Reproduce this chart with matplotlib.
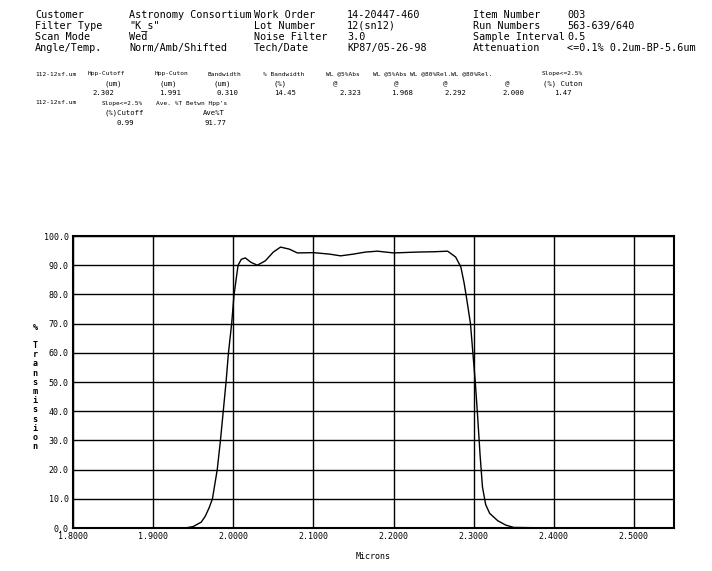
"Transmission scan of a K_s filter, redrawn from the spectrophotometer printout"
import matplotlib
matplotlib.use("Agg")
import matplotlib.pyplot as plt

# header block (label, value) per column pair
header_left = [("Customer", "Astronomy Consortium"),
               ("Filter Type", "\"K_s\""),
               ("Scan Mode", "Wed"),
               ("Angle/Temp.", "Norm/Amb/Shifted")]
header_mid = [("Work Order", "14-20447-460"),
              ("Lot Number", "12(sn12)"),
              ("Noise Filter", "3.0"),
              ("Tech/Date", "KP87/05-26-98")]
header_right = [("Item Number", "003"),
                ("Run Numbers", "563-639/640"),
                ("Sample Interval", "0.5"),
                ("Attenuation", "<=0.1% 0.2um-BP-5.6um")]

# summary table
sum_names = ["Hpp-Cutoff", "Hpp-Cuton", "Bandwidth", "% Bandwidth",
             "WL @5%Abs", "WL @5%Abs", "WL @80%Rel.", "WL @80%Rel.", "Slope<=2.5%"]
sum_units = ["(um)", "(um)", "(um)", "(%)", "@", "@", "@", "@", "(%) Cuton"]
sum_values = ["2.302", "1.991", "0.310", "14.45", "2.323", "1.968", "2.292", "2.000", "1.47"]
sum2_names = ["Slope<=2.5%", "Ave. %T Betwn Hpp's"]
sum2_units = ["(%)Cutoff", "Ave%T"]
sum2_values = ["0.99", "91.77"]

# curve
wl = [1.80, 1.90, 1.94, 1.95, 1.96, 1.965, 1.97, 1.974, 1.98, 1.984, 1.9875, 1.991,
      1.994, 1.998, 2.001, 2.006, 2.010, 2.015, 2.022, 2.030, 2.040, 2.050, 2.059,
      2.070, 2.080, 2.100, 2.120, 2.134, 2.150, 2.165, 2.180, 2.200, 2.230, 2.250,
      2.2675, 2.2775, 2.284, 2.288, 2.291, 2.296, 2.299, 2.302, 2.305, 2.308, 2.311,
      2.315, 2.320, 2.330, 2.340, 2.350, 2.40, 2.55]
trans = [0.0, 0.0, 0.0, 0.5, 2.0, 4.0, 7.0, 10.0, 20.0, 30.0, 40.0, 50.0,
         60.0, 70.0, 80.0, 90.0, 92.0, 92.5, 91.0, 90.0, 91.5, 94.5, 96.2,
         95.5, 94.2, 94.3, 93.8, 93.2, 93.8, 94.5, 94.8, 94.2, 94.5, 94.6,
         94.8, 92.8, 89.4, 84.0, 79.0, 70.0, 60.0, 50.0, 38.0, 25.0, 14.0,
         8.0, 5.0, 2.5, 1.0, 0.2, 0.0, 0.0]

xticks = [1.8, 1.9, 2.0, 2.1, 2.2, 2.3, 2.4, 2.5]
yticks = [0, 10, 20, 30, 40, 50, 60, 70, 80, 90, 100]

mono = "DejaVu Sans Mono"
W, H = 712, 571
fig = plt.figure(figsize=(W / 100, H / 100), dpi=100)

def px(x, y):
    return x / W, 1 - y / H

# header
rows_y = [15, 26, 37, 48]
for i, y in enumerate(rows_y):
    for (lab, val), xl, xv in [(header_left[i], 35, 129),
                               (header_mid[i], 254, 347),
                               (header_right[i], 473, 567)]:
        fig.text(*px(xl, y), lab, family=mono, fontsize=7.3, va="center")
        fig.text(*px(xv, y), val, family=mono, fontsize=7.3, va="center")

# summary block (printer font is narrow, so names are set smaller)
fs = 5.2
fn = 4.4
fig.text(*px(35, 74), "112-12sf.um", family=mono, fontsize=fn, va="center")
name_x = [88, 155, 208, 263, 326, 373, 410, 451, 542]
unit_x = [113, 168, 222, 280, 335, 396, 445, 507, 563]
val_x = [103, 170, 227, 285, 350, 402, 455, 513, 563]
for n, u, v, xn, xu, xv in zip(sum_names, sum_units, sum_values, name_x, unit_x, val_x):
    fig.text(*px(xn, 74), n, family=mono, fontsize=fn, va="center")
    fig.text(*px(xu, 84), u, family=mono, fontsize=fs, va="center", ha="center")
    fig.text(*px(xv, 93), v, family=mono, fontsize=fs, va="center", ha="center")
fig.text(*px(35, 103), "112-12sf.um", family=mono, fontsize=fn, va="center")
for n, u, v, xn, xu, xv in zip(sum2_names, sum2_units, sum2_values,
                               [102, 156], [105, 203], [125, 215]):
    fig.text(*px(xn, 103), n, family=mono, fontsize=fn, va="center")
    fig.text(*px(xu, 113), u, family=mono, fontsize=fs, va="center")
    fig.text(*px(xv, 123), v, family=mono, fontsize=fs, va="center", ha="center")

# plot
ax = fig.add_axes([73 / W, 1 - 528 / H, (674 - 73) / W, (528 - 236) / H])
ax.plot(wl, trans, color="black", lw=1.0)
ax.set_xlim(1.8, 2.55)
ax.set_ylim(0, 100)
ax.set_xticks(xticks)
ax.set_yticks(yticks)
ax.set_xticklabels(["%.4f" % t for t in xticks], family=mono, fontsize=6)
ax.set_yticklabels(["%.1f" % t for t in yticks], family=mono, fontsize=6)
ax.tick_params(length=0, pad=3)
ax.grid(True, color="black", lw=1.0)
for s in ax.spines.values():
    s.set_linewidth(1.5)
ax.set_xlabel("Microns", family=mono, fontsize=6, labelpad=8)

# stacked y label
ylab = "%  Transmission"
for i, ch in enumerate(ylab):
    if ch != " ":
        fig.text(*px(35, 327 + i * 9.2 - (9.2 if i > 0 else 0)), ch, family=mono,
                 fontsize=6, ha="center", va="center", weight="bold")

fig.savefig("out.png", dpi=100)
